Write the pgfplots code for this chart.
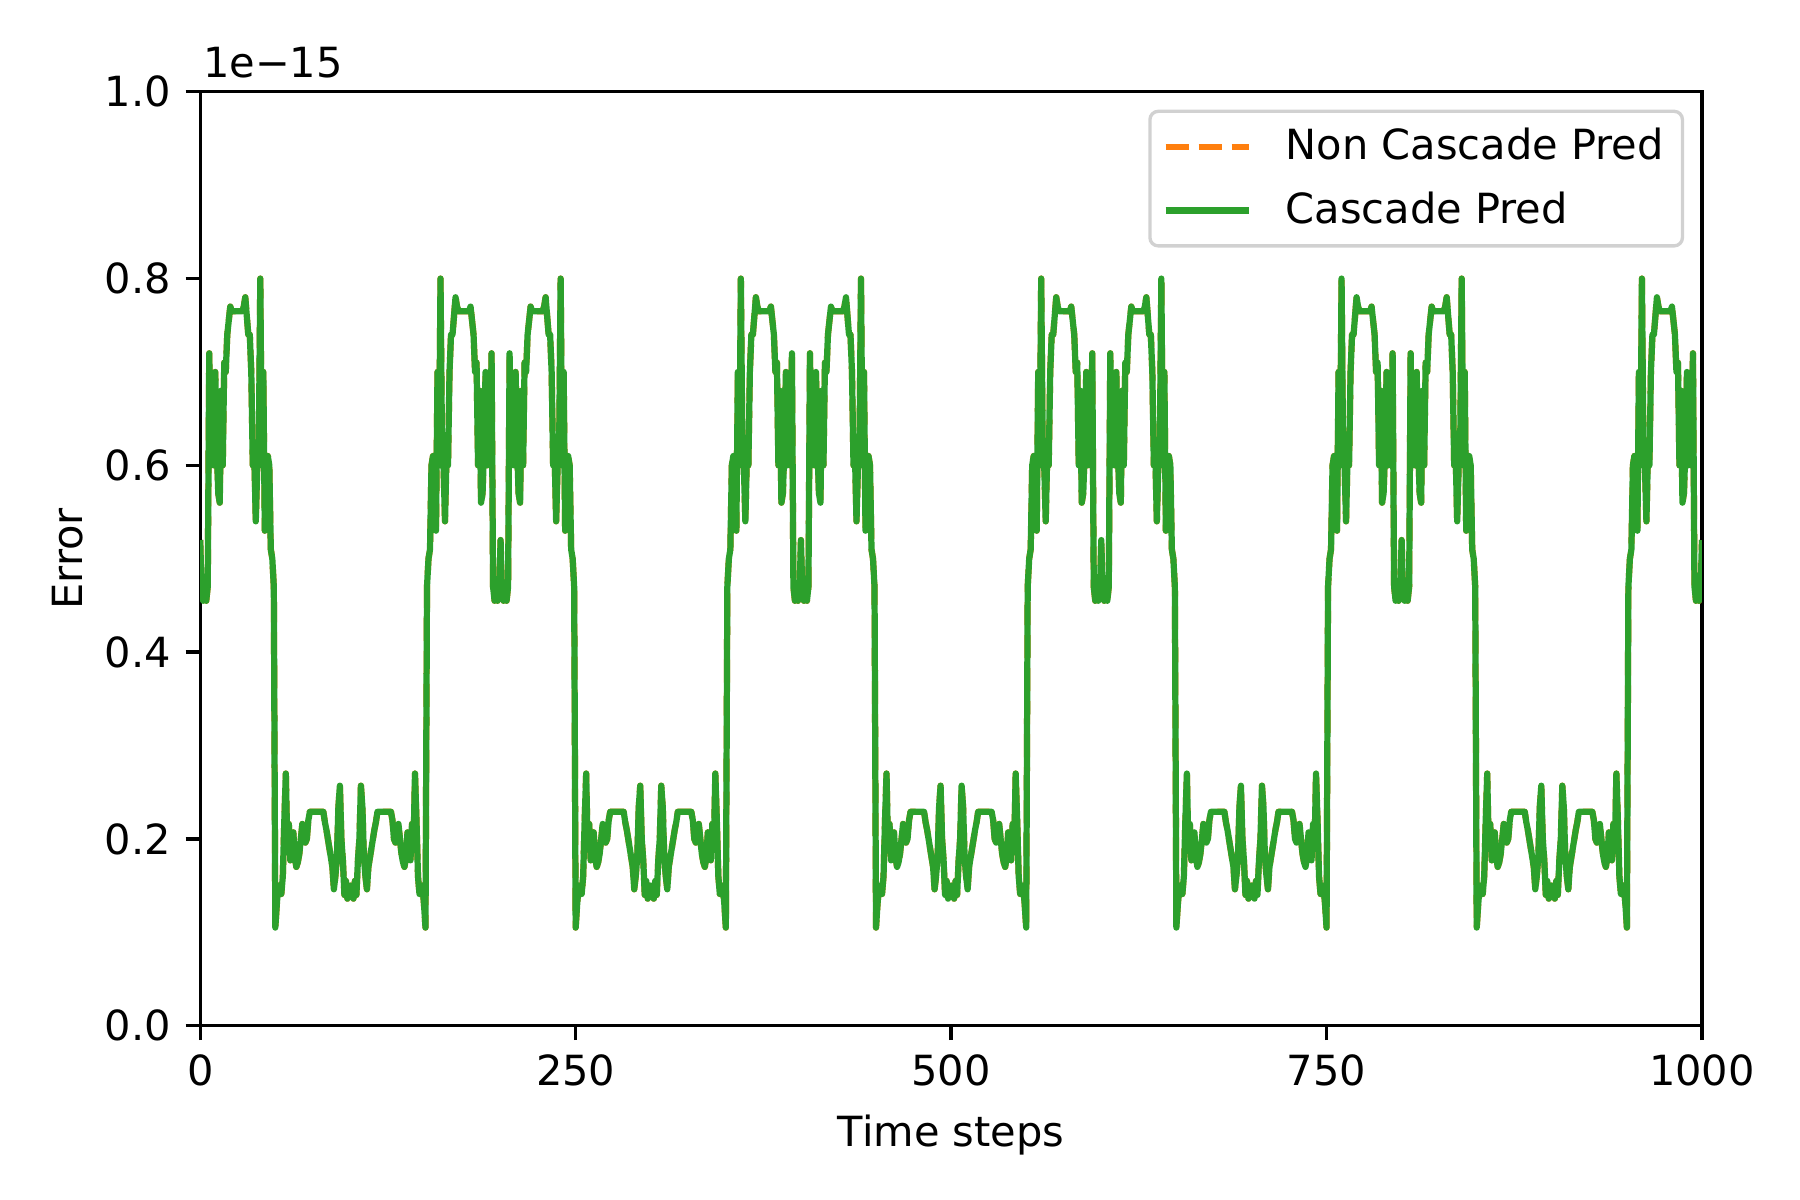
\documentclass[border=0pt]{standalone}
\usepackage{fontspec}
\setmainfont{DejaVu Sans}
\usepackage{pgfplots}
\usepackage{pgfplotstable}
\pgfplotsset{compat=1.18}
\definecolor{mplgreen}{HTML}{2CA02C}
\definecolor{mplorange}{HTML}{FF7F0E}
\pgfplotstableread[header=false,row sep=\\]{
0.52\\0.46\\0.455\\0.46\\0.455\\0.47\\0.72\\0.60\\0.61\\0.60\\
0.70\\0.62\\0.57\\0.56\\0.68\\0.60\\0.71\\0.70\\0.74\\0.755\\
0.77\\0.765\\0.765\\0.765\\0.765\\0.765\\0.765\\0.765\\0.765\\0.77\\
0.78\\0.76\\0.74\\0.74\\0.70\\0.60\\0.61\\0.54\\0.60\\0.62\\
0.80\\0.60\\0.70\\0.53\\0.60\\0.61\\0.60\\0.51\\0.50\\0.47\\
0.105\\0.13\\0.15\\0.141\\0.141\\0.16\\0.22\\0.27\\0.19\\0.216\\
0.177\\0.19\\0.207\\0.18\\0.17\\0.175\\0.184\\0.20\\0.216\\0.21\\
0.196\\0.20\\0.22\\0.229\\0.229\\0.229\\0.229\\0.229\\0.229\\0.229\\
0.229\\0.229\\0.229\\0.218\\0.21\\0.20\\0.19\\0.18\\0.17\\0.146\\
0.16\\0.18\\0.234\\0.257\\0.20\\0.177\\0.14\\0.155\\0.136\\0.14\\
0.15\\0.14\\0.136\\0.155\\0.14\\0.177\\0.20\\0.257\\0.234\\0.18\\
0.16\\0.146\\0.17\\0.18\\0.19\\0.20\\0.21\\0.218\\0.229\\0.229\\
0.229\\0.229\\0.229\\0.229\\0.229\\0.229\\0.229\\0.229\\0.22\\0.20\\
0.196\\0.21\\0.216\\0.20\\0.184\\0.175\\0.17\\0.18\\0.207\\0.19\\
0.177\\0.216\\0.19\\0.27\\0.22\\0.16\\0.141\\0.141\\0.15\\0.13\\
0.105\\0.47\\0.50\\0.51\\0.60\\0.61\\0.60\\0.53\\0.70\\0.60\\
0.80\\0.62\\0.60\\0.54\\0.61\\0.60\\0.70\\0.74\\0.74\\0.76\\
0.78\\0.77\\0.765\\0.765\\0.765\\0.765\\0.765\\0.765\\0.765\\0.765\\
0.77\\0.755\\0.74\\0.70\\0.71\\0.60\\0.68\\0.56\\0.57\\0.62\\
0.70\\0.60\\0.61\\0.60\\0.72\\0.47\\0.455\\0.46\\0.455\\0.46\\
0.52\\0.46\\0.455\\0.46\\0.455\\0.47\\0.72\\0.60\\0.61\\0.60\\
0.70\\0.62\\0.57\\0.56\\0.68\\0.60\\0.71\\0.70\\0.74\\0.755\\
0.77\\0.765\\0.765\\0.765\\0.765\\0.765\\0.765\\0.765\\0.765\\0.77\\
0.78\\0.76\\0.74\\0.74\\0.70\\0.60\\0.61\\0.54\\0.60\\0.62\\
0.80\\0.60\\0.70\\0.53\\0.60\\0.61\\0.60\\0.51\\0.50\\0.47\\
0.105\\0.13\\0.15\\0.141\\0.141\\0.16\\0.22\\0.27\\0.19\\0.216\\
0.177\\0.19\\0.207\\0.18\\0.17\\0.175\\0.184\\0.20\\0.216\\0.21\\
0.196\\0.20\\0.22\\0.229\\0.229\\0.229\\0.229\\0.229\\0.229\\0.229\\
0.229\\0.229\\0.229\\0.218\\0.21\\0.20\\0.19\\0.18\\0.17\\0.146\\
0.16\\0.18\\0.234\\0.257\\0.20\\0.177\\0.14\\0.155\\0.136\\0.14\\
0.15\\0.14\\0.136\\0.155\\0.14\\0.177\\0.20\\0.257\\0.234\\0.18\\
0.16\\0.146\\0.17\\0.18\\0.19\\0.20\\0.21\\0.218\\0.229\\0.229\\
0.229\\0.229\\0.229\\0.229\\0.229\\0.229\\0.229\\0.229\\0.22\\0.20\\
0.196\\0.21\\0.216\\0.20\\0.184\\0.175\\0.17\\0.18\\0.207\\0.19\\
0.177\\0.216\\0.19\\0.27\\0.22\\0.16\\0.141\\0.141\\0.15\\0.13\\
0.105\\0.47\\0.50\\0.51\\0.60\\0.61\\0.60\\0.53\\0.70\\0.60\\
0.80\\0.62\\0.60\\0.54\\0.61\\0.60\\0.70\\0.74\\0.74\\0.76\\
0.78\\0.77\\0.765\\0.765\\0.765\\0.765\\0.765\\0.765\\0.765\\0.765\\
0.77\\0.755\\0.74\\0.70\\0.71\\0.60\\0.68\\0.56\\0.57\\0.62\\
0.70\\0.60\\0.61\\0.60\\0.72\\0.47\\0.455\\0.46\\0.455\\0.46\\
0.52\\0.46\\0.455\\0.46\\0.455\\0.47\\0.72\\0.60\\0.61\\0.60\\
0.70\\0.62\\0.57\\0.56\\0.68\\0.60\\0.71\\0.70\\0.74\\0.755\\
0.77\\0.765\\0.765\\0.765\\0.765\\0.765\\0.765\\0.765\\0.765\\0.77\\
0.78\\0.76\\0.74\\0.74\\0.70\\0.60\\0.61\\0.54\\0.60\\0.62\\
0.80\\0.60\\0.70\\0.53\\0.60\\0.61\\0.60\\0.51\\0.50\\0.47\\
0.105\\0.13\\0.15\\0.141\\0.141\\0.16\\0.22\\0.27\\0.19\\0.216\\
0.177\\0.19\\0.207\\0.18\\0.17\\0.175\\0.184\\0.20\\0.216\\0.21\\
0.196\\0.20\\0.22\\0.229\\0.229\\0.229\\0.229\\0.229\\0.229\\0.229\\
0.229\\0.229\\0.229\\0.218\\0.21\\0.20\\0.19\\0.18\\0.17\\0.146\\
0.16\\0.18\\0.234\\0.257\\0.20\\0.177\\0.14\\0.155\\0.136\\0.14\\
0.15\\0.14\\0.136\\0.155\\0.14\\0.177\\0.20\\0.257\\0.234\\0.18\\
0.16\\0.146\\0.17\\0.18\\0.19\\0.20\\0.21\\0.218\\0.229\\0.229\\
0.229\\0.229\\0.229\\0.229\\0.229\\0.229\\0.229\\0.229\\0.22\\0.20\\
0.196\\0.21\\0.216\\0.20\\0.184\\0.175\\0.17\\0.18\\0.207\\0.19\\
0.177\\0.216\\0.19\\0.27\\0.22\\0.16\\0.141\\0.141\\0.15\\0.13\\
0.105\\0.47\\0.50\\0.51\\0.60\\0.61\\0.60\\0.53\\0.70\\0.60\\
0.80\\0.62\\0.60\\0.54\\0.61\\0.60\\0.70\\0.74\\0.74\\0.76\\
0.78\\0.77\\0.765\\0.765\\0.765\\0.765\\0.765\\0.765\\0.765\\0.765\\
0.77\\0.755\\0.74\\0.70\\0.71\\0.60\\0.68\\0.56\\0.57\\0.62\\
0.70\\0.60\\0.61\\0.60\\0.72\\0.47\\0.455\\0.46\\0.455\\0.46\\
0.52\\0.46\\0.455\\0.46\\0.455\\0.47\\0.72\\0.60\\0.61\\0.60\\
0.70\\0.62\\0.57\\0.56\\0.68\\0.60\\0.71\\0.70\\0.74\\0.755\\
0.77\\0.765\\0.765\\0.765\\0.765\\0.765\\0.765\\0.765\\0.765\\0.77\\
0.78\\0.76\\0.74\\0.74\\0.70\\0.60\\0.61\\0.54\\0.60\\0.62\\
0.80\\0.60\\0.70\\0.53\\0.60\\0.61\\0.60\\0.51\\0.50\\0.47\\
0.105\\0.13\\0.15\\0.141\\0.141\\0.16\\0.22\\0.27\\0.19\\0.216\\
0.177\\0.19\\0.207\\0.18\\0.17\\0.175\\0.184\\0.20\\0.216\\0.21\\
0.196\\0.20\\0.22\\0.229\\0.229\\0.229\\0.229\\0.229\\0.229\\0.229\\
0.229\\0.229\\0.229\\0.218\\0.21\\0.20\\0.19\\0.18\\0.17\\0.146\\
0.16\\0.18\\0.234\\0.257\\0.20\\0.177\\0.14\\0.155\\0.136\\0.14\\
0.15\\0.14\\0.136\\0.155\\0.14\\0.177\\0.20\\0.257\\0.234\\0.18\\
0.16\\0.146\\0.17\\0.18\\0.19\\0.20\\0.21\\0.218\\0.229\\0.229\\
0.229\\0.229\\0.229\\0.229\\0.229\\0.229\\0.229\\0.229\\0.22\\0.20\\
0.196\\0.21\\0.216\\0.20\\0.184\\0.175\\0.17\\0.18\\0.207\\0.19\\
0.177\\0.216\\0.19\\0.27\\0.22\\0.16\\0.141\\0.141\\0.15\\0.13\\
0.105\\0.47\\0.50\\0.51\\0.60\\0.61\\0.60\\0.53\\0.70\\0.60\\
0.80\\0.62\\0.60\\0.54\\0.61\\0.60\\0.70\\0.74\\0.74\\0.76\\
0.78\\0.77\\0.765\\0.765\\0.765\\0.765\\0.765\\0.765\\0.765\\0.765\\
0.77\\0.755\\0.74\\0.70\\0.71\\0.60\\0.68\\0.56\\0.57\\0.62\\
0.70\\0.60\\0.61\\0.60\\0.72\\0.47\\0.455\\0.46\\0.455\\0.46\\
0.52\\0.46\\0.455\\0.46\\0.455\\0.47\\0.72\\0.60\\0.61\\0.60\\
0.70\\0.62\\0.57\\0.56\\0.68\\0.60\\0.71\\0.70\\0.74\\0.755\\
0.77\\0.765\\0.765\\0.765\\0.765\\0.765\\0.765\\0.765\\0.765\\0.77\\
0.78\\0.76\\0.74\\0.74\\0.70\\0.60\\0.61\\0.54\\0.60\\0.62\\
0.80\\0.60\\0.70\\0.53\\0.60\\0.61\\0.60\\0.51\\0.50\\0.47\\
0.105\\0.13\\0.15\\0.141\\0.141\\0.16\\0.22\\0.27\\0.19\\0.216\\
0.177\\0.19\\0.207\\0.18\\0.17\\0.175\\0.184\\0.20\\0.216\\0.21\\
0.196\\0.20\\0.22\\0.229\\0.229\\0.229\\0.229\\0.229\\0.229\\0.229\\
0.229\\0.229\\0.229\\0.218\\0.21\\0.20\\0.19\\0.18\\0.17\\0.146\\
0.16\\0.18\\0.234\\0.257\\0.20\\0.177\\0.14\\0.155\\0.136\\0.14\\
0.15\\0.14\\0.136\\0.155\\0.14\\0.177\\0.20\\0.257\\0.234\\0.18\\
0.16\\0.146\\0.17\\0.18\\0.19\\0.20\\0.21\\0.218\\0.229\\0.229\\
0.229\\0.229\\0.229\\0.229\\0.229\\0.229\\0.229\\0.229\\0.22\\0.20\\
0.196\\0.21\\0.216\\0.20\\0.184\\0.175\\0.17\\0.18\\0.207\\0.19\\
0.177\\0.216\\0.19\\0.27\\0.22\\0.16\\0.141\\0.141\\0.15\\0.13\\
0.105\\0.47\\0.50\\0.51\\0.60\\0.61\\0.60\\0.53\\0.70\\0.60\\
0.80\\0.62\\0.60\\0.54\\0.61\\0.60\\0.70\\0.74\\0.74\\0.76\\
0.78\\0.77\\0.765\\0.765\\0.765\\0.765\\0.765\\0.765\\0.765\\0.765\\
0.77\\0.755\\0.74\\0.70\\0.71\\0.60\\0.68\\0.56\\0.57\\0.62\\
0.70\\0.60\\0.61\\0.60\\0.72\\0.47\\0.455\\0.46\\0.455\\0.46\\
0.52\\
}\errdata

\begin{document}
\begin{tikzpicture}
\begin{axis}[
  scale only axis,
  width=361.5pt, height=224.8pt,
  xmin=0, xmax=1000, ymin=0, ymax=1,
  xtick={0,250,500,750,1000},
  xticklabels={0,250,500,750,1000},
  ytick={0,0.2,0.4,0.6,0.8,1},
  yticklabels={0.0,0.2,0.4,0.6,0.8,1.0},
  tick align=outside,
  xtick pos=bottom, ytick pos=left,
  major tick length=3.5pt,
  tick style={black, line width=0.8pt},
  axis line style={line width=0.8pt},
  font=\fontsize{10}{12}\selectfont,
  xlabel={Time steps}, ylabel={Error},
  ylabel shift=-1.5pt,
  /pgf/number format/assume math mode=true,
  legend style={at={(1,1)}, anchor=north east, xshift=-4.3pt, yshift=-4.3pt,
    draw=black!18, rounded corners=2pt, line width=0.8pt,
    font=\fontsize{10}{12}\selectfont, row sep=2.2pt, inner xsep=2.5pt, inner ysep=2pt,
    cells={anchor=west}},
  legend cell align=left,
  legend image code/.code={\path (-0.5pt,0pt) (26.2pt,0pt);\draw[#1] (0pt,0pt) -- (20pt,0pt);},
]
\addplot[mplorange, line width=1.5pt, line join=round, dash pattern=on 5.55pt off 2.4pt] table[x expr=\coordindex, y index=0] {\errdata};
\addlegendentry{Non Cascade Pred}
\addplot[mplgreen, line width=1.5pt, line join=round] table[x expr=\coordindex, y index=0] {\errdata};
\addlegendentry{Cascade Pred}
\end{axis}
\node[anchor=south west, inner sep=0pt] at ([xshift=0.5pt,yshift=3pt]current axis.north west) {1e−15};
\path (current axis.south west) +(-48.2pt,-41.9pt);
\path (current axis.north east) +(23.6pt,22.1pt);
\end{tikzpicture}
\end{document}
